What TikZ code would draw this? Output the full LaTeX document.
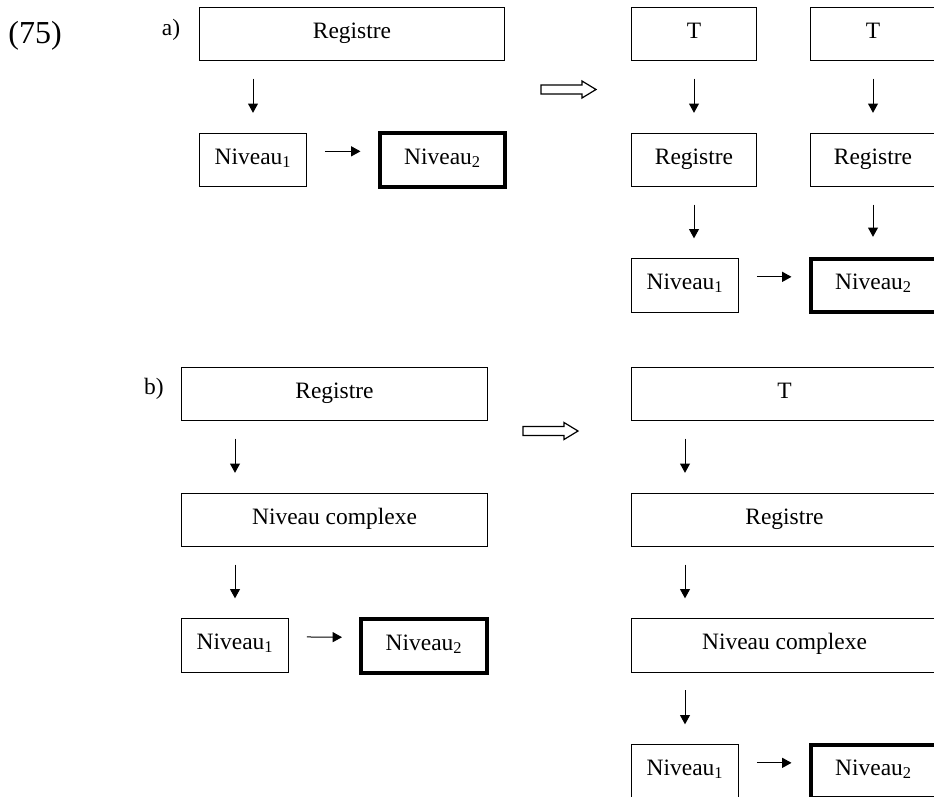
\documentclass[tikz,border=0pt]{standalone}
\usepackage{fontspec}
\setmainfont{Liberation Serif}
\usepackage{tikz}
\usetikzlibrary{arrows.meta, positioning, calc}
\tikzset{
    box/.style={rectangle, draw=black, line width=0.75pt, minimum height=40pt,
        inner sep=0pt, text height=12pt, text depth=6pt, align=center,
        font=\fontsize{17.6}{20}\selectfont},
    widebox/.style={box, minimum width=229pt},
    midbox/.style={box, minimum width=94pt},
    smallbox/.style={box, minimum width=80pt},
    goalbox/.style={box, minimum width=94pt, line width=3pt},
    tag/.style={anchor=base, inner sep=0pt, font=\fontsize{17.6}{20}\selectfont},
    arrow/.style={line width=0.75pt, -{Triangle[width=7.5pt,length=7pt]}},
    vlink/.style={arrow, shorten <=13pt, shorten >=15pt},
    hlink/.style={arrow, shorten <=13.5pt, shorten >=13pt},
    implies/.style={draw=black, line width=0.9pt, fill=white}
}

\begin{document}
\begin{tikzpicture}[x=0.75pt, y=-0.75pt]
\useasboundingbox (0,0) rectangle (934,796);
\clip (0,0) rectangle (934,796);

\node[tag, font=\fontsize{24}{28}\selectfont] (ex) at (35,43) {(75)};
\node[tag] (lbla) at (171,36) {a)};
\node[tag] (lblb) at (154,394) {b)};

% a) left
\node[widebox] (areg) at (352,34) {Registre};
\node[smallbox] (aniv1) at (253,160) {Niveau\textsubscript{1}};
\node[goalbox] (aniv2) at (442.5,160) {Niveau\textsubscript{2}};
\draw[vlink] (areg.south -| aniv1.north) -- (aniv1.north);
\draw[hlink] ([yshift=6.5pt]aniv1.east) -- ([yshift=6.5pt]aniv2.west);

% a) right
\node[midbox] (at1) at (694,34) {T};
\node[midbox] (at2) at (873,34) {T};
\node[midbox] (areg1) at (694,160) {Registre};
\node[midbox] (areg2) at (873,160) {Registre};
\node[smallbox] (aniv1r) at (685,285.5) {Niveau\textsubscript{1}};
\node[goalbox] (aniv2r) at (873.5,285.5) {Niveau\textsubscript{2}};
\draw[vlink] (at1) -- (areg1);
\draw[vlink] (at2) -- (areg2);
\draw[vlink] (areg1.south) -- (areg1.south |- aniv1r.north);
\draw[vlink] (areg2.south) -- (areg2.south |- aniv2r.north);
\draw[hlink] ([yshift=6.5pt]aniv1r.east) -- ([yshift=6.5pt]aniv2r.west);

% b) left
\node[widebox] (breg) at (334.5,394) {Registre};
\node[widebox] (bcomp) at (334.5,520) {Niveau complexe};
\node[smallbox] (bniv1) at (235,645.5) {Niveau\textsubscript{1}};
\node[goalbox] (bniv2) at (424,646) {Niveau\textsubscript{2}};
\draw[vlink] (breg.south -| bniv1.north) -- (bcomp.north -| bniv1.north);
\draw[vlink] (bcomp.south -| bniv1.north) -- (bniv1.north);
\draw[hlink] ([yshift=6.5pt]bniv1.east) -- ([yshift=6.5pt]bniv2.west);

% b) right
\node[widebox] (bt) at (784.5,394) {T};
\node[widebox] (breg2) at (784.5,520) {Registre};
\node[widebox] (bcomp2) at (784.5,645.5) {Niveau complexe};
\node[smallbox] (bniv1r) at (685,771.5) {Niveau\textsubscript{1}};
\node[goalbox] (bniv2r) at (873.5,771.5) {Niveau\textsubscript{2}};
\draw[vlink] (bt.south -| bniv1r.north) -- (breg2.north -| bniv1r.north);
\draw[vlink] (breg2.south -| bniv1r.north) -- (bcomp2.north -| bniv1r.north);
\draw[vlink] (bcomp2.south -| bniv1r.north) -- (bniv1r.north);
\draw[hlink] ([yshift=6.5pt]bniv1r.east) -- ([yshift=6.5pt]bniv2r.west);

% hollow arrows between a) and b) parts
\foreach \p in {(541,89.5),(523,431)}
    \draw[implies, shift={\p}] (0,-4.5) -- (41,-4.5) -- (41,-8.5) -- (55,0)
        -- (41,8.5) -- (41,4.5) -- (0,4.5) -- cycle;
\end{tikzpicture}
\end{document}
